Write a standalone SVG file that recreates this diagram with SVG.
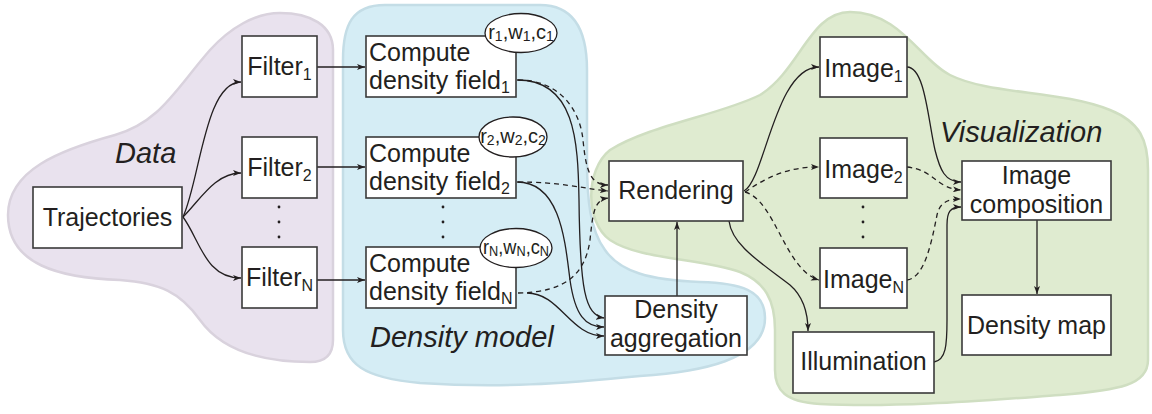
<svg xmlns="http://www.w3.org/2000/svg" width="1152" height="414" viewBox="0 0 1152 414">
<defs>
<marker id="ah" viewBox="0 0 8 6" refX="8" refY="3" markerWidth="8" markerHeight="6" markerUnits="userSpaceOnUse" orient="auto">
<path d="M0,0 L8,3 L0,6 L2,3 Z" fill="#231f20"/>
</marker>
<style>
.box{fill:#fff;stroke:#3a3a3a;stroke-width:1.6}
.t{font-family:"Liberation Sans",Arial,sans-serif;font-size:25px;fill:#231f20}
.s{font-size:16px}
.it{font-family:"Liberation Sans",Arial,sans-serif;font-size:29px;font-style:italic;fill:#231f20}
.el{fill:#fff;stroke:#231f20;stroke-width:1.3}
.et{font-family:"Liberation Sans",Arial,sans-serif;font-size:20px;fill:#231f20}
.es{font-size:14px}
.c{fill:none;stroke:#231f20;stroke-width:1.3;marker-end:url(#ah)}
.d{stroke-dasharray:5,4}
.dot{fill:#231f20}
</style>
</defs>

<g id="regions">
<path id="data-region" d="M280,13 C310,13 333,25 333,50 L333,340 C333,355 325,362 310,362 C270,362 225,355 200,320 C180,292 160,283 120,280 C60,278 8,265 8,215 C8,170 60,150 115,135 C160,122 175,90 210,50 C230,28 255,13 280,13 Z" fill="#e9e2ee" stroke="#d9d2dd" stroke-width="2.5"/>
<path id="density-region" d="M385,5 C352,5 343,25 343,60 L343,330 C343,365 365,378 420,383 C500,388 560,384 640,376 C700,372 765,360 765,318 C765,290 740,283 700,282 C650,280 620,272 605,250 C590,230 587,200 587,160 L587,70 C587,25 570,5 540,5 Z" fill="#d5edf5" stroke="#c4dde6" stroke-width="2.5"/>
<path id="vis-region" d="M850,12 C900,12 920,60 950,75 C990,95 1060,90 1110,110 C1140,122 1148,140 1148,170 L1148,360 C1148,385 1120,390 1060,395 C990,400 900,408 820,404 C785,402 775,390 775,370 L775,330 C775,300 765,282 740,272 C700,258 640,260 610,240 C585,222 585,170 610,150 C650,125 720,115 760,95 C800,70 810,12 850,12 Z" fill="#dfebd0" stroke="#cfdec1" stroke-width="2.5"/>
<text class="it" x="115" y="163">Data</text>
<text class="it" x="370" y="347">Density model</text>
<text class="it" x="940" y="142">Visualization</text>
</g>

<g id="connectors">
<path class="c" d="M183,217 C200,180 205,82 241,82"/>
<path class="c" d="M183,217 C200,200 215,173 241,173"/>
<path class="c" d="M183,217 C200,240 205,278 241,278"/>
<path class="c" d="M317,67 L365,67"/>
<path class="c" d="M317,167 L365,167"/>
<path class="c" d="M317,280 L365,280"/>
<path class="c" d="M517,80 C575,80 578,140 579,200 C580,290 585,315 604,318"/>
<path class="c" d="M517,182 C560,182 565,240 570,280 C575,315 585,327 604,327"/>
<path class="c" d="M527,293 C560,293 570,336 604,336"/>
<path class="c d" d="M518,80 C560,80 580,110 583,140 C586,170 590,185 608,185"/>
<path class="c d" d="M518,182 C560,182 580,188 608,191"/>
<path class="c d" d="M518,293 C565,292 585,275 590,240 C593,210 595,200 608,198"/>
<path class="c" d="M677,296 L677,222"/>
<path class="c" d="M744,191 C765,180 775,67 819,67"/>
<path class="c d" d="M745,192 C770,175 790,167 819,167"/>
<path class="c d" d="M745,192 C775,200 785,270 819,280"/>
<path class="c" d="M729,221 C732,245 760,262 790,285 C805,298 808,315 808,331"/>
<path class="c" d="M907,67 C925,67 928,120 935,150 C940,170 945,182 961,182"/>
<path class="c d" d="M907,167 C935,170 935,188 961,190"/>
<path class="c d" d="M907,280 C925,278 932,240 937,215 C940,202 948,199 961,199"/>
<path class="c" d="M934,362 C946,360 947,345 947,320 L947,225 C947,212 950,207 961,207"/>
<path class="c" d="M1037,220 L1037,294"/>
</g>

<g id="trajectories">
<rect class="box" x="33" y="187" width="149" height="61"/>
<text class="t" x="107.5" y="226" text-anchor="middle">Trajectories</text>
</g>

<g id="filter1">
<rect class="box" x="242" y="36" width="75" height="61"/>
<text class="t" x="279.5" y="75" text-anchor="middle">Filter<tspan class="s" dy="5">1</tspan></text>
</g>
<g id="filter2">
<rect class="box" x="242" y="137" width="75" height="61"/>
<text class="t" x="279.5" y="176" text-anchor="middle">Filter<tspan class="s" dy="5">2</tspan></text>
</g>
<g id="filter-dots">
<circle class="dot" cx="279" cy="207" r="1.4"/>
<circle class="dot" cx="279" cy="222" r="1.4"/>
<circle class="dot" cx="279" cy="237" r="1.4"/>
</g>
<g id="filterN">
<rect class="box" x="242" y="247" width="75" height="61"/>
<text class="t" x="279.5" y="286" text-anchor="middle">Filter<tspan class="s" dy="5">N</tspan></text>
</g>

<g id="cdf1">
<rect class="box" x="366" y="36" width="150" height="61"/>
<text class="t" x="369" y="61">Compute</text>
<text class="t" x="369" y="89">density field<tspan class="s" dy="4">1</tspan></text>
<ellipse class="el" cx="521" cy="33" rx="36" ry="19.5"/>
<text class="et" x="521" y="39" text-anchor="middle">r<tspan class="es" dy="2">1</tspan><tspan dy="-2">,w</tspan><tspan class="es" dy="2">1</tspan><tspan dy="-2">,c</tspan><tspan class="es" dy="2">1</tspan></text>
</g>
<g id="cdf2">
<rect class="box" x="366" y="137" width="150" height="61"/>
<text class="t" x="369" y="162">Compute</text>
<text class="t" x="369" y="190">density field<tspan class="s" dy="4">2</tspan></text>
<ellipse class="el" cx="513" cy="137" rx="34" ry="20"/>
<text class="et" x="513" y="143" text-anchor="middle">r<tspan class="es" dy="2">2</tspan><tspan dy="-2">,w</tspan><tspan class="es" dy="2">2</tspan><tspan dy="-2">,c</tspan><tspan class="es" dy="2">2</tspan></text>
</g>
<g id="cdf-dots">
<circle class="dot" cx="443" cy="207" r="1.4"/>
<circle class="dot" cx="443" cy="222" r="1.4"/>
<circle class="dot" cx="443" cy="237" r="1.4"/>
</g>
<g id="cdfN">
<rect class="box" x="366" y="247" width="150" height="61"/>
<text class="t" x="369" y="272">Compute</text>
<text class="t" x="369" y="300">density field<tspan class="s" dy="4">N</tspan></text>
<ellipse class="el" cx="516" cy="248" rx="36" ry="19.5"/>
<text class="et" x="516" y="254" text-anchor="middle" textLength="66" lengthAdjust="spacingAndGlyphs">r<tspan class="es" dy="2">N</tspan><tspan dy="-2">,w</tspan><tspan class="es" dy="2">N</tspan><tspan dy="-2">,c</tspan><tspan class="es" dy="2">N</tspan></text>
</g>

<g id="density-aggregation">
<rect class="box" x="605" y="296" width="142" height="59"/>
<text class="t" x="676" y="318" text-anchor="middle">Density</text>
<text class="t" x="676" y="347" text-anchor="middle">aggregation</text>
</g>

<g id="rendering">
<rect class="box" x="609" y="161" width="134" height="60"/>
<text class="t" x="676" y="199" text-anchor="middle">Rendering</text>
</g>

<g id="image1">
<rect class="box" x="820" y="37" width="87" height="60"/>
<text class="t" x="863.5" y="77" text-anchor="middle">Image<tspan class="s" dy="5">1</tspan></text>
</g>
<g id="image2">
<rect class="box" x="820" y="138" width="87" height="60"/>
<text class="t" x="863.5" y="178" text-anchor="middle">Image<tspan class="s" dy="5">2</tspan></text>
</g>
<g id="image-dots">
<circle class="dot" cx="863" cy="207" r="1.4"/>
<circle class="dot" cx="863" cy="222" r="1.4"/>
<circle class="dot" cx="863" cy="237" r="1.4"/>
</g>
<g id="imageN">
<rect class="box" x="820" y="248" width="87" height="60"/>
<text class="t" x="863.5" y="288" text-anchor="middle">Image<tspan class="s" dy="5">N</tspan></text>
</g>

<g id="illumination">
<rect class="box" x="793" y="332" width="141" height="61"/>
<text class="t" x="863.5" y="370" text-anchor="middle">Illumination</text>
</g>

<g id="image-composition">
<rect class="box" x="962" y="161" width="149" height="59"/>
<text class="t" x="1036.5" y="184" text-anchor="middle">Image</text>
<text class="t" x="1036.5" y="213" text-anchor="middle">composition</text>
</g>

<g id="density-map">
<rect class="box" x="962" y="295" width="149" height="60"/>
<text class="t" x="1036.5" y="334" text-anchor="middle">Density map</text>
</g>
</svg>
